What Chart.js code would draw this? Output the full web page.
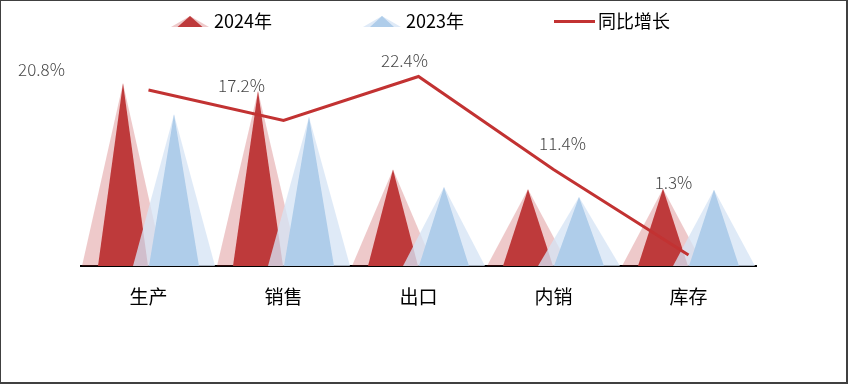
<!DOCTYPE html>
<html>
<head>
<meta charset="utf-8">
<script src="https://cdn.jsdelivr.net/npm/chart.js@4/dist/chart.umd.min.js"></script>
<style>
  html, body { margin: 0; padding: 0; background: #ffffff; }
  #wrap { width: 848px; height: 384px; }
</style>
</head>
<body>
<div id="wrap"><canvas id="c" width="848" height="384"></canvas></div>
<script>
const categories = ['生产', '销售', '出口', '内销', '库存'];
const values2024 = [864, 827, 456, 363, 365];
const values2023 = [718, 706, 373, 326, 360];
const growth = [20.8, 17.2, 22.4, 11.4, 1.3];
const seriesNames = ['2024年', '2023年', '同比增长'];

const RED_INNER = '#BE3A3B';
const RED_OUTER = 'rgba(192,57,59,0.27)';
const BLUE_INNER = '#AFCDEA';
const BLUE_OUTER = 'rgba(214,228,245,0.78)';
const LINE_RED = '#C23232';
const CJK = '"Noto Sans CJK SC", "Noto Sans", sans-serif';

function tri(ctx, cx, peakY, baseY, w, color) {
  ctx.beginPath();
  ctx.moveTo(cx - w / 2, baseY);
  ctx.lineTo(cx, peakY);
  ctx.lineTo(cx + w / 2, baseY);
  ctx.closePath();
  ctx.fillStyle = color;
  ctx.fill();
}

const spikePlugin = {
  id: 'spikes',
  beforeDatasetsDraw(chart, args, opts) {
    const ctx = chart.ctx;
    ctx.save();
    ctx.filter = 'blur(0.5px)';
    [[0, RED_OUTER, RED_INNER], [1, BLUE_OUTER, BLUE_INNER]].forEach(([di, outer, inner]) => {
      const meta = chart.getDatasetMeta(di);
      meta.data.forEach(el => {
        const p = el.getProps(['x', 'y', 'base', 'width'], true);
        tri(ctx, p.x, p.y, p.base, p.width * opts.outerScale, outer);
      });
      meta.data.forEach(el => {
        const p = el.getProps(['x', 'y', 'base', 'width'], true);
        tri(ctx, p.x, p.y, p.base, p.width, inner);
      });
    });
    ctx.restore();
  }
};

const labelPlugin = {
  id: 'pctLabels',
  afterDatasetsDraw(chart, args, opts) {
    const ctx = chart.ctx;
    const meta = chart.getDatasetMeta(2);
    ctx.save();
    ctx.font = '300 17px ' + CJK;
    ctx.fillStyle = '#474747';
    ctx.textAlign = 'center';
    ctx.textBaseline = 'middle';
    meta.data.forEach((pt, i) => {
      const off = opts.offsets[i];
      ctx.fillText(growth[i].toFixed(1) + '%', pt.x + off[0], pt.y + off[1]);
    });
    ctx.restore();
  }
};

const legendPlugin = {
  id: 'customLegend',
  afterDraw(chart) {
    const ctx = chart.ctx;
    ctx.save();
    tri(ctx, 190, 16, 27, 38, RED_OUTER);
    tri(ctx, 190, 16, 27, 25, RED_INNER);
    tri(ctx, 382, 16, 27, 38, BLUE_OUTER);
    tri(ctx, 382, 16, 27, 24, BLUE_INNER);
    ctx.strokeStyle = LINE_RED;
    ctx.lineWidth = 3;
    ctx.beginPath();
    ctx.moveTo(554, 21.5);
    ctx.lineTo(595, 21.5);
    ctx.stroke();
    ctx.font = '18px ' + CJK;
    ctx.fillStyle = '#000000';
    ctx.textAlign = 'left';
    ctx.textBaseline = 'middle';
    ctx.fillText(seriesNames[0], 214, 21.5);
    ctx.fillText(seriesNames[1], 406, 21.5);
    ctx.fillText(seriesNames[2], 598, 21.5);
    ctx.fillStyle = '#404040';
    ctx.fillRect(0, 0, 848, 1);
    ctx.fillRect(0, 0, 1, 384);
    ctx.fillRect(846, 0, 2, 384);
    ctx.fillRect(0, 382, 848, 2);
    ctx.restore();
  }
};

new Chart(document.getElementById('c'), {
  data: {
    labels: categories,
    datasets: [
      { type: 'bar', label: seriesNames[0], data: values2024, yAxisID: 'y',
        backgroundColor: 'rgba(0,0,0,0)', borderWidth: 0,
        categoryPercentage: 0.7556, barPercentage: 0.98, order: 2 },
      { type: 'bar', label: seriesNames[1], data: values2023, yAxisID: 'y',
        backgroundColor: 'rgba(0,0,0,0)', borderWidth: 0,
        categoryPercentage: 0.7556, barPercentage: 0.98, order: 2 },
      { type: 'line', label: seriesNames[2], data: growth, yAxisID: 'y1',
        borderColor: LINE_RED, borderWidth: 3, pointRadius: 0, tension: 0,
        fill: false, order: 1 }
    ]
  },
  options: {
    responsive: false,
    animation: false,
    devicePixelRatio: 1,
    layout: { padding: { left: 81, right: 92, top: 54.5, bottom: 57.2 } },
    plugins: {
      legend: { display: false },
      tooltip: { enabled: false },
      spikes: { outerScale: 1.64 },
      pctLabels: { offsets: [[-107, -20], [-42, -35], [-14, -16], [9, -26], [-15, -72]] }
    },
    scales: {
      x: {
        offset: true,
        grid: { display: false, drawTicks: false },
        border: { display: true, color: '#000000', width: 2 },
        ticks: { color: '#000000', padding: 19, font: { family: CJK, size: 19 } }
      },
      y: { display: false, min: 0, max: 1000 },
      y1: { display: false, min: 0, max: 25, position: 'right' }
    }
  },
  plugins: [spikePlugin, labelPlugin, legendPlugin]
});
</script>
</body>
</html>
